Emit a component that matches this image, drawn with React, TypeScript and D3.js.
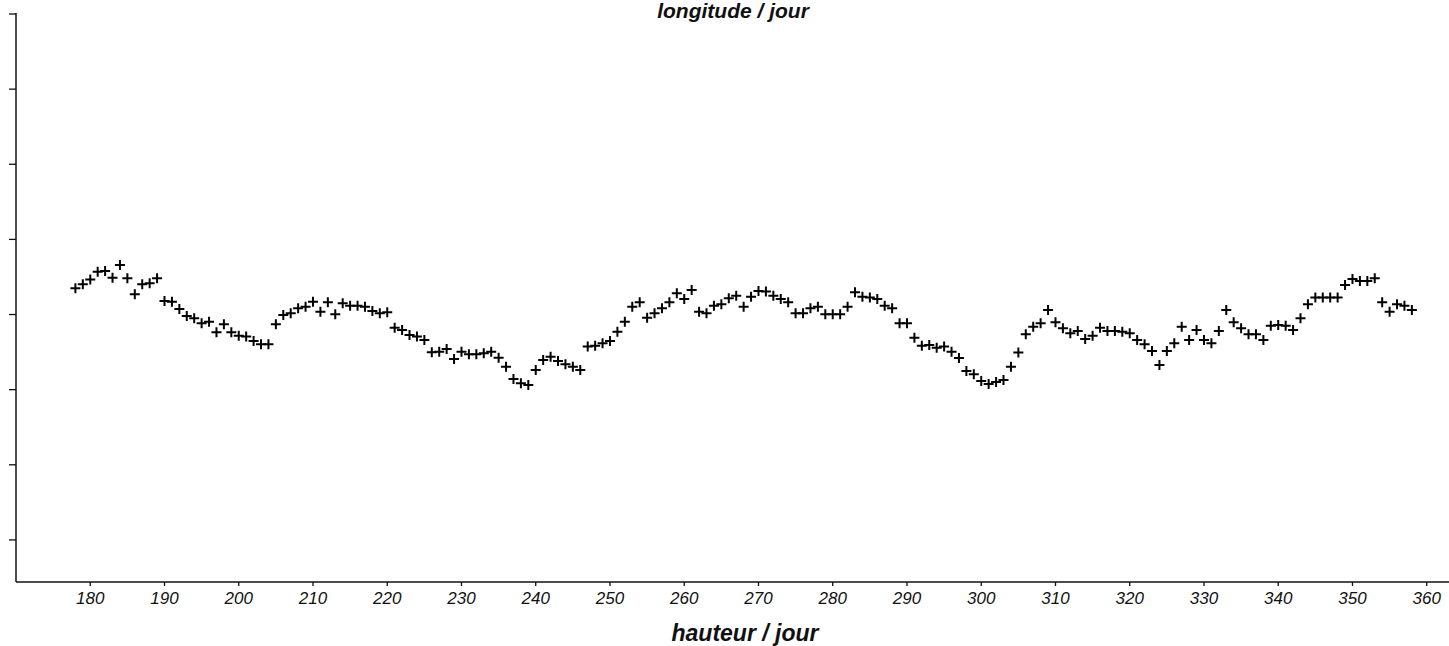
import React from "react";
import * as d3 from "d3";

// Day of year (hauteur / jour) for each observation
const days: number[] = d3.range(178, 359);

// Daily longitude readings, one per day from 178 to 358
const longitude: number[] = [
  33.5, 34.03, 34.67, 35.71, 35.8, 34.91, 36.6, 34.83, 32.7, 34.03,
  34.16, 34.83, 31.81, 31.71, 30.74, 29.81, 29.5, 28.84, 29.05, 27.64,
  28.71, 27.64, 27.19, 27.06, 26.48, 26.04, 26.04, 28.71, 29.94, 30.17,
  30.84, 31.05, 31.71, 30.38, 31.63, 30.04, 31.5, 31.18, 31.18, 31.05,
  30.48, 30.17, 30.3, 28.25, 27.95, 27.28, 27.06, 26.62, 24.98, 25.06,
  25.42, 24.09, 25.06, 24.71, 24.71, 24.85, 25.06, 24.26, 23.06, 21.43,
  20.85, 20.63, 22.62, 23.96, 24.39, 23.82, 23.38, 23.06, 22.62, 25.73,
  25.86, 26.18, 26.48, 27.72, 29.05, 31.05, 31.63, 29.58, 30.17, 30.84,
  31.63, 32.83, 32.07, 33.27, 30.38, 30.17, 31.18, 31.37, 32.17, 32.51,
  31.05, 32.38, 33.14, 33.05, 32.51, 32.07, 31.63, 30.17, 30.17, 30.84,
  31.05, 30.04, 30.04, 30.04, 31.05, 32.96, 32.38, 32.25, 32.07, 31.18,
  30.84, 28.84, 28.84, 26.92, 25.86, 25.95, 25.59, 25.73, 25.06, 24.22,
  22.49, 22.05, 21.16, 20.76, 21.03, 21.29, 23.06, 24.93, 27.38, 28.39,
  28.84, 30.61, 28.97, 28.17, 27.51, 27.81, 26.75, 27.19, 28.25, 27.81,
  27.81, 27.72, 27.51, 26.62, 26.04, 25.15, 23.29, 25.15, 26.18, 28.39,
  26.62, 27.95, 26.62, 26.18, 27.81, 30.61, 28.97, 28.17, 27.38, 27.38,
  26.62, 28.52, 28.61, 28.52, 27.95, 29.5, 31.37, 32.25, 32.25, 32.25,
  32.25, 33.94, 34.74, 34.47, 34.47, 34.83, 31.63, 30.38, 31.37, 31.18,
  30.61,
];

const xTicks: number[] = d3.range(180, 361, 10);
const yTicks: number[] = d3.range(0, 71, 10);

const W = 1449;
const H = 646;

export default function App() {
  const x = d3.scaleLinear().domain([170, 363]).range([16, 1449]);
  const y = d3.scaleLinear().domain([-5.6, 70]).range([582, 14]);
  const arm = 5;
  const font = "'Liberation Sans', Arial, Helvetica, sans-serif";

  return (
    <svg
      width={W}
      height={H}
      style={{ position: "absolute", left: 0, top: 0, background: "#fff" }}
    >
      {/* axes */}
      <line x1={x(170)} x2={W} y1={y(-5.6)} y2={y(-5.6)} stroke="#111" strokeWidth={1.5} />
      <line x1={x(170)} x2={x(170)} y1={y(70) - 1} y2={y(-5.6)} stroke="#111" strokeWidth={1.5} />

      {yTicks.map((t) => (
        <line key={t} x1={x(170) - 7} x2={x(170)} y1={y(t)} y2={y(t)} stroke="#111" strokeWidth={1.3} />
      ))}

      {xTicks.map((t) => (
        <g key={t}>
          <line x1={x(t)} x2={x(t)} y1={y(-5.6)} y2={y(-5.6) + 4} stroke="#111" strokeWidth={1.3} />
          <text
            x={x(t)}
            y={y(-5.6) + 22}
            textAnchor="middle"
            fontFamily={font}
            fontStyle="italic"
            fontSize={17}
            fill="#111"
          >
            {t}
          </text>
        </g>
      ))}

      {/* crosses */}
      {days.map((d, i) => {
        const cx = x(d);
        const cy = y(longitude[i]);
        return (
          <path
            key={d}
            d={`M${cx - arm},${cy}H${cx + arm}M${cx},${cy - arm}V${cy + arm}`}
            stroke="#000"
            strokeWidth={2}
            fill="none"
          />
        );
      })}

      <text
        x={733}
        y={18}
        textAnchor="middle"
        fontFamily={font}
        fontStyle="italic"
        fontWeight="bold"
        fontSize={21}
        fill="#111"
      >
        longitude / jour
      </text>
      <text
        x={745}
        y={641}
        textAnchor="middle"
        fontFamily={font}
        fontStyle="italic"
        fontWeight="bold"
        fontSize={23}
        fill="#111"
      >
        hauteur / jour
      </text>
    </svg>
  );
}
